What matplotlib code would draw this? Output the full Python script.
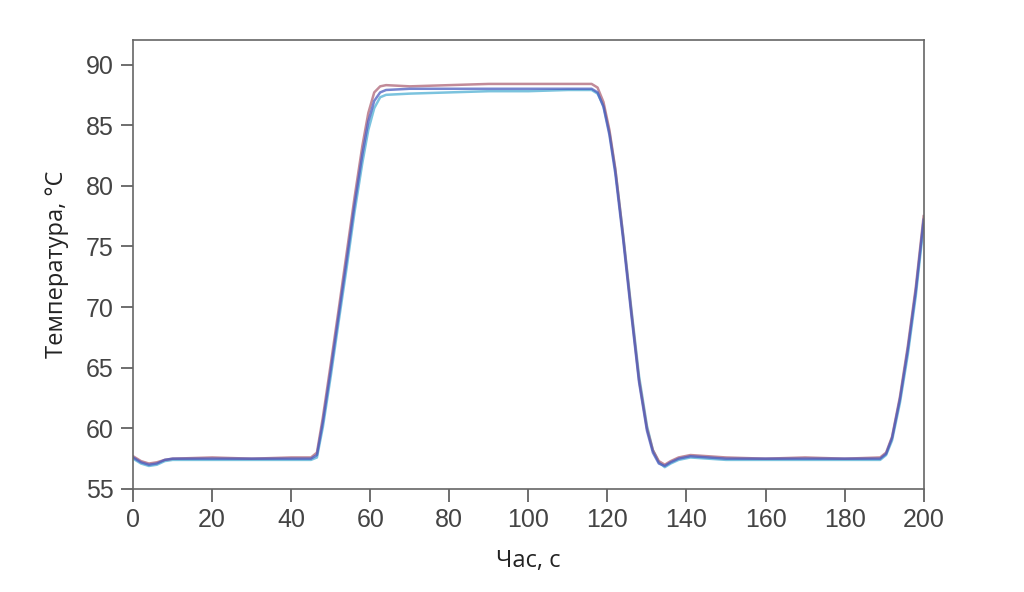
import numpy as np
import matplotlib.pyplot as plt

# time, s
t = [0, 2, 4, 6, 8, 10, 20, 30, 40, 45, 46.5, 48, 50, 52, 54, 56, 58, 59.5,
     61, 62.5, 64, 70, 80, 90, 100, 110, 116, 117.5, 119, 120.5, 122, 124,
     126, 128, 130, 131.5, 133, 134.5, 136, 138, 141, 150, 160, 170, 180,
     189, 190.5, 192, 194, 196, 198, 200]

temp_blue = [57.6, 57.2, 57.0, 57.1, 57.4, 57.5, 57.5, 57.5, 57.5, 57.5,
             57.8, 60.5, 64.8, 69.3, 73.8, 78.4, 82.6, 85.3, 87.0, 87.7,
             87.9, 88.0, 88.0, 88.0, 88.0, 88.0, 88.0, 87.7, 86.5, 84.2,
             81.0, 75.5, 69.5, 63.8, 59.8, 58.0, 57.1, 56.9, 57.2, 57.5,
             57.7, 57.5, 57.5, 57.5, 57.5, 57.5, 57.9, 59.2, 62.4, 66.5,
             71.3, 77.2]

temp_red = [57.7, 57.3, 57.1, 57.2, 57.4, 57.5, 57.6, 57.5, 57.6, 57.6,
            58.0, 60.9, 65.3, 69.8, 74.4, 79.0, 83.3, 86.0, 87.7, 88.2,
            88.3, 88.2, 88.3, 88.4, 88.4, 88.4, 88.4, 88.1, 86.9, 84.6,
            81.4, 75.8, 69.8, 64.0, 60.0, 58.2, 57.3, 57.0, 57.3, 57.6,
            57.8, 57.6, 57.5, 57.6, 57.5, 57.6, 58.0, 59.3, 62.6, 66.8,
            71.6, 77.5]

temp_cyan = [57.5, 57.1, 56.9, 57.0, 57.3, 57.4, 57.4, 57.4, 57.4, 57.4,
             57.6, 60.1, 64.3, 68.8, 73.2, 77.8, 81.9, 84.6, 86.4, 87.3,
             87.5, 87.6, 87.7, 87.8, 87.8, 87.9, 87.9, 87.6, 86.6, 84.4,
             81.3, 75.9, 70.0, 64.3, 60.2, 58.2, 57.2, 56.8, 57.1, 57.4,
             57.6, 57.4, 57.4, 57.4, 57.4, 57.4, 57.8, 59.0, 62.1, 66.1,
             70.9, 76.8]

fig = plt.figure(figsize=(10.24, 5.92), dpi=100)
ax = fig.add_axes([0.130, 0.174, 0.772, 0.758])

ax.plot(t, temp_cyan, color='#5ab4d6', lw=1.8, alpha=0.8)
ax.plot(t, temp_red, color='#a85a6e', lw=1.8, alpha=0.7)
ax.plot(t, temp_blue, color='#4a5cc0', lw=1.8, alpha=0.75)

ax.set_xlim(0, 200)
ax.set_ylim(55, 92)
ax.set_xticks(range(0, 201, 20))
ax.set_yticks(range(55, 91, 5))

for s in ax.spines.values():
    s.set_color('#666666')
    s.set_linewidth(1.2)
ax.tick_params(length=9, width=1.2, color='#555555', labelcolor='#444444',
               labelsize=18, pad=5)
for lab in ax.get_xticklabels() + ax.get_yticklabels():
    lab.set_family('Liberation Sans')

ax.set_xlabel('Час, с', fontsize=17, family='Open Sans', color='#222222', labelpad=12)
ax.set_ylabel('Температура, \u00b0C', fontsize=17, family='Open Sans',
              color='#222222', labelpad=12)

fig.savefig('out.png', dpi=100)
